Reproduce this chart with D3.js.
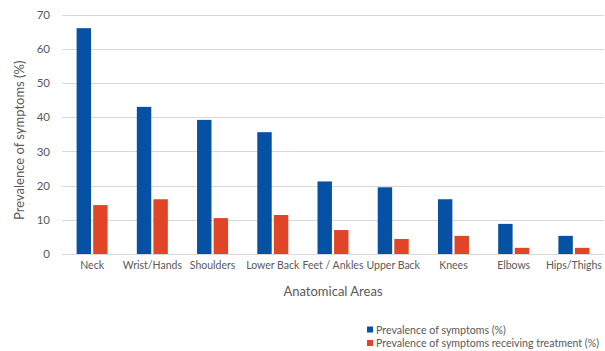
<!DOCTYPE html>
<html>
<head>
<meta charset="utf-8">
<script src="https://cdn.jsdelivr.net/npm/d3@7"></script>
<style>
  html, body { margin: 0; padding: 0; background: #fff; }
  svg text { font-family: "Lato", "Open Sans", sans-serif; fill: #595959; }
</style>
</head>
<body>
<svg id="chart" width="605" height="351"></svg>
<script>
const categories = ["Neck", "Wrist/Hands", "Shoulders", "Lower Back", "Feet / Ankles", "Upper Back", "Knees", "Elbows", "Hips/Thighs"];
const prevalence = [66, 43, 39.2, 35.6, 21.2, 19.5, 16, 8.8, 5.3];
const treated = [14.3, 16, 10.5, 11.4, 7, 4.4, 5.3, 1.8, 1.8];
const seriesNames = ["Prevalence of symptoms (%)", "Prevalence of symptoms receiving treatment (%)"];
const seriesColors = ["#0651a3", "#e04527"];
const yTicks = [0, 10, 20, 30, 40, 50, 60, 70];

const svg = d3.select("#chart");
const m = { left: 62, right: 1, top: 14.5, bottom: 97 };
const W = 605, H = 351;

const x = d3.scaleBand().domain(categories).range([m.left, W - m.right]).paddingInner(0).paddingOuter(0);
const y = d3.scaleLinear().domain([0, 70]).range([H - m.bottom, m.top]);
const inner = d3.scaleBand().domain([0, 1]).range([x.bandwidth() / 2 - 15.5, x.bandwidth() / 2 + 15.5]).paddingInner(0.13);

// gridlines
svg.append("g").selectAll("line").data(yTicks).join("line")
  .attr("x1", m.left).attr("x2", W - m.right)
  .attr("y1", d => Math.round(y(d)) + 0.5).attr("y2", d => Math.round(y(d)) + 0.5)
  .attr("stroke", "#d9d9d9").attr("stroke-width", 1);

// y axis tick labels
const yAxis = d3.axisLeft(y).tickValues(yTicks).tickSize(0).tickPadding(0);
const gy = svg.append("g").attr("transform", `translate(${m.left - 12},0)`).call(yAxis);
gy.select(".domain").remove();
gy.selectAll("text").attr("font-size", 11.5).style("font-family", "Lato, 'Open Sans', sans-serif").attr("fill", "#595959");

// bars
const data = categories.map((c, i) => ({ c, v: [prevalence[i], treated[i]] }));
const groups = svg.append("g").selectAll("g").data(data).join("g")
  .attr("transform", d => `translate(${x(d.c)},0)`);
groups.selectAll("rect").data(d => d.v.map((v, k) => ({ v, k }))).join("rect")
  .attr("x", d => inner(d.k))
  .attr("width", inner.bandwidth())
  .attr("y", d => y(d.v))
  .attr("height", d => y(0) - y(d.v))
  .attr("fill", d => seriesColors[d.k]);

// x axis category labels
const xAxis = d3.axisBottom(x).tickSize(0).tickPadding(0);
const gx = svg.append("g").attr("transform", `translate(0,${y(0) + 8})`).call(xAxis);
gx.select(".domain").remove();
gx.selectAll("text").attr("font-size", 10.5).style("font-family", "Lato, 'Open Sans', sans-serif").attr("fill", "#595959").attr("dy", "0.71em");

// axis titles
svg.append("text").attr("x", (m.left + W - m.right) / 2).attr("y", 296)
  .attr("text-anchor", "middle").attr("font-size", 13).text("Anatomical Areas");
svg.append("text").attr("transform", `translate(24,${(y(0) + y(70)) / 2 + 6}) rotate(-90)`)
  .attr("text-anchor", "middle").attr("font-size", 13).text("Prevalence of symptoms (%)");

// legend
const lg = svg.append("g").selectAll("g").data(seriesNames).join("g")
  .attr("transform", (d, i) => `translate(367,${330 + i * 13.5})`);
lg.append("rect").attr("x", 0).attr("y", -3.5).attr("width", 6).attr("height", 6)
  .attr("fill", (d, i) => seriesColors[i]);
lg.append("text").attr("x", 9).attr("y", 0).attr("dy", "0.35em")
  .attr("font-size", 10.6).text(d => d);
</script>
</body>
</html>
